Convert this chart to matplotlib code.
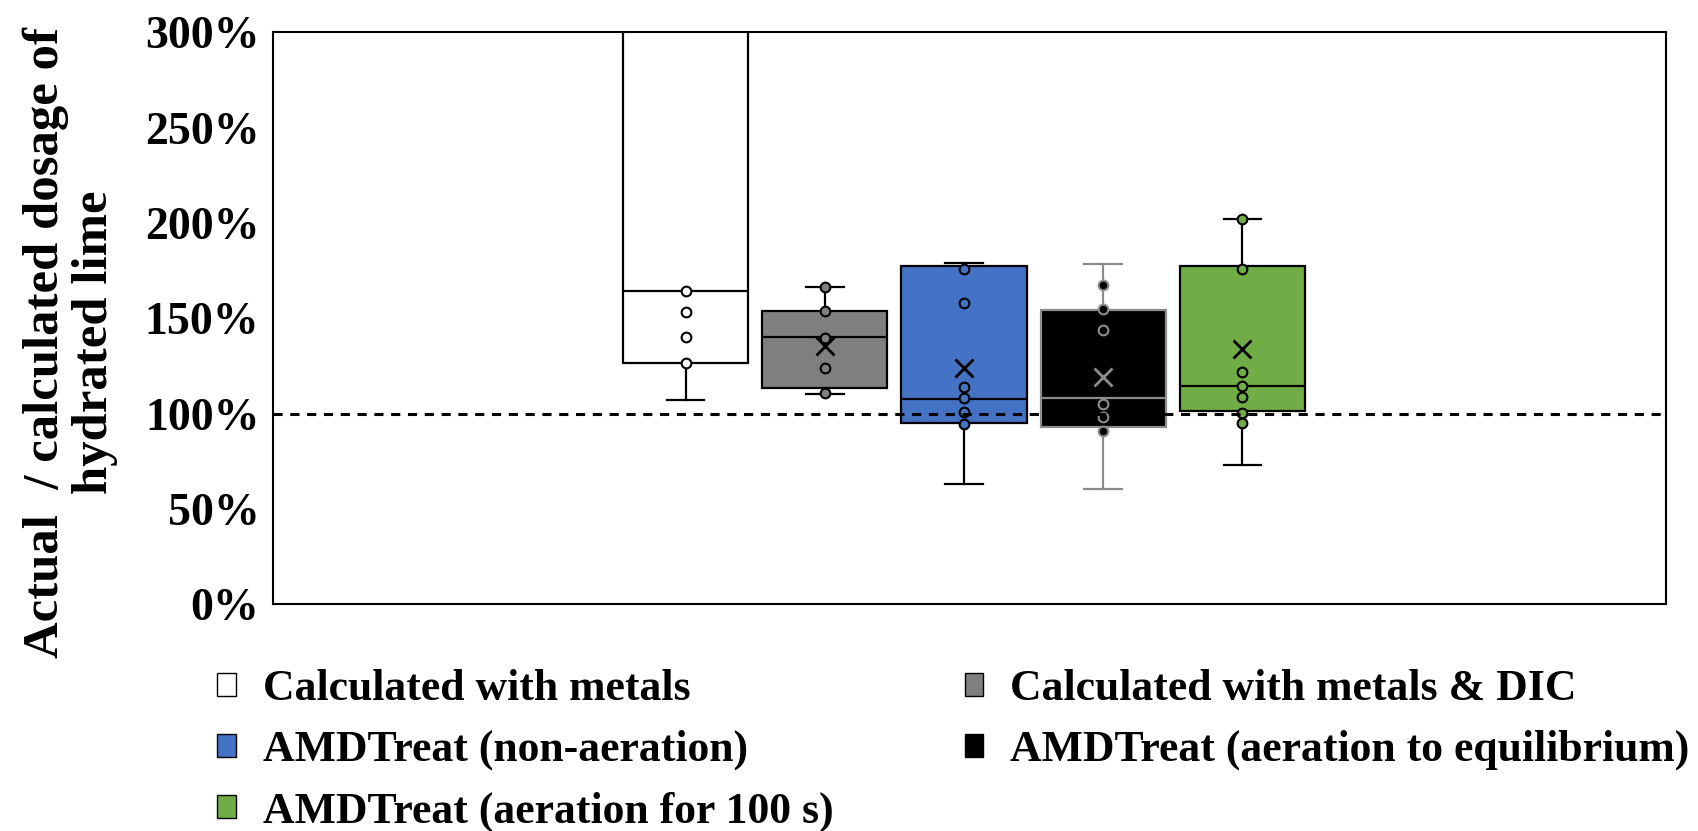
import matplotlib

matplotlib.use("Agg")
import matplotlib.pyplot as plt
from matplotlib.patches import Patch

# Box statistics (percent of calculated dosage)
labels = [
    "Calculated with metals",
    "Calculated with metals & DIC",
    "AMDTreat (non-aeration)",
    "AMDTreat (aeration to equilibrium)",
    "AMDTreat (aeration for 100 s)",
]
q1 = [126.3, 113.3, 95.0, 92.9, 101.1]
medians = [164.5, 140.1, 107.6, 108.4, 114.2]
q3 = [330.0, 153.9, 177.2, 154.4, 177.2]  # first box runs off the top
whislo = [107.2, 110.3, 63.0, 60.3, 73.1]
whishi = [360.0, 166.3, 179.0, 178.4, 202.0]
means = [None, 135.2, 124.1, 119.4, 133.7]
points = [
    [164.5, 153.2, 140.4, 126.4],
    [166.3, 154.0, 139.5, 123.8, 110.7],
    [175.7, 158.0, 113.9, 108.1, 100.6, 94.4],
    [167.2, 154.9, 143.6, 104.9, 98.1, 91.1],
    [202.0, 175.9, 121.7, 114.2, 108.9, 100.5, 94.9],
]
y_ticks = [0, 50, 100, 150, 200, 250, 300]

fills = ["white", "#7F7F7F", "#4472C4", "black", "#70AD47"]
edges = ["black", "black", "black", "#8C8C8C", "black"]
positions = [-2, -1, 0, 1, 2]

plt.rcParams["font.family"] = ["Liberation Serif", "DejaVu Serif"]
plt.rcParams["font.weight"] = "bold"

fig = plt.figure(figsize=(16.98, 8.31), dpi=100)
ax = fig.add_axes([0.161, 0.273, 0.820, 0.688])

for i in range(len(labels)):
    stats = {
        "q1": q1[i], "med": medians[i], "q3": q3[i],
        "whislo": whislo[i], "whishi": whishi[i], "fliers": [],
    }
    show_mean = means[i] is not None
    if show_mean:
        stats["mean"] = means[i]
    lc = edges[i]
    ax.bxp(
        [stats],
        positions=[positions[i]],
        widths=0.9,
        capwidths=0.27,
        patch_artist=True,
        showmeans=show_mean,
        boxprops=dict(facecolor=fills[i], edgecolor=lc, linewidth=1.6),
        medianprops=dict(color=lc, linewidth=1.6),
        whiskerprops=dict(color=lc, linewidth=1.6),
        capprops=dict(color=lc, linewidth=1.6),
        meanprops=dict(marker="x", markersize=13, markeredgewidth=2,
                       markeredgecolor=lc, markerfacecolor=lc),
        manage_ticks=False,
    )
    ax.plot(
        [positions[i]] * len(points[i]), points[i],
        linestyle="none", marker="o", markersize=7,
        markerfacecolor=fills[i], markeredgecolor=lc, markeredgewidth=1.5,
        zorder=4,
    )

ax.axhline(100, color="black", linestyle=(0, (3, 2.5)), linewidth=2.2, zorder=5)

# the group of boxes sits a touch left of the plot centre
ax.set_xlim(-4.96, 5.04)
ax.set_ylim(0, 300)
ax.set_xticks([])
ax.set_yticks(y_ticks)
ax.set_yticklabels([f"{t}%" for t in y_ticks], fontsize=33, fontweight="bold")
ax.tick_params(axis="y", length=0, pad=10)
for s in ax.spines.values():
    s.set_linewidth(1.5)
    s.set_color("black")

fig.text(0.0414, 0.588, "Actual  / calculated dosage of\nhydrated lime",
         rotation=90, ha="center", va="center", fontsize=36.5,
         fontweight="bold", linespacing=1.1, multialignment="center")

handles = [Patch(facecolor=f, edgecolor="black", linewidth=1.0) for f in fills]
order = [0, 2, 4, 1, 3]
fig.legend(
    [handles[k] for k in order], [labels[k] for k in order],
    loc="upper left", bbox_to_anchor=(0.128, 0.195), ncol=2,
    frameon=False, prop=dict(weight="bold", size=31.5),
    handlelength=0.42, handleheight=0.42, handletextpad=0.62,
    labelspacing=0.48, columnspacing=3.0, borderpad=0, borderaxespad=0,
)

fig.savefig("out.png", dpi=100)
plt.close(fig)
